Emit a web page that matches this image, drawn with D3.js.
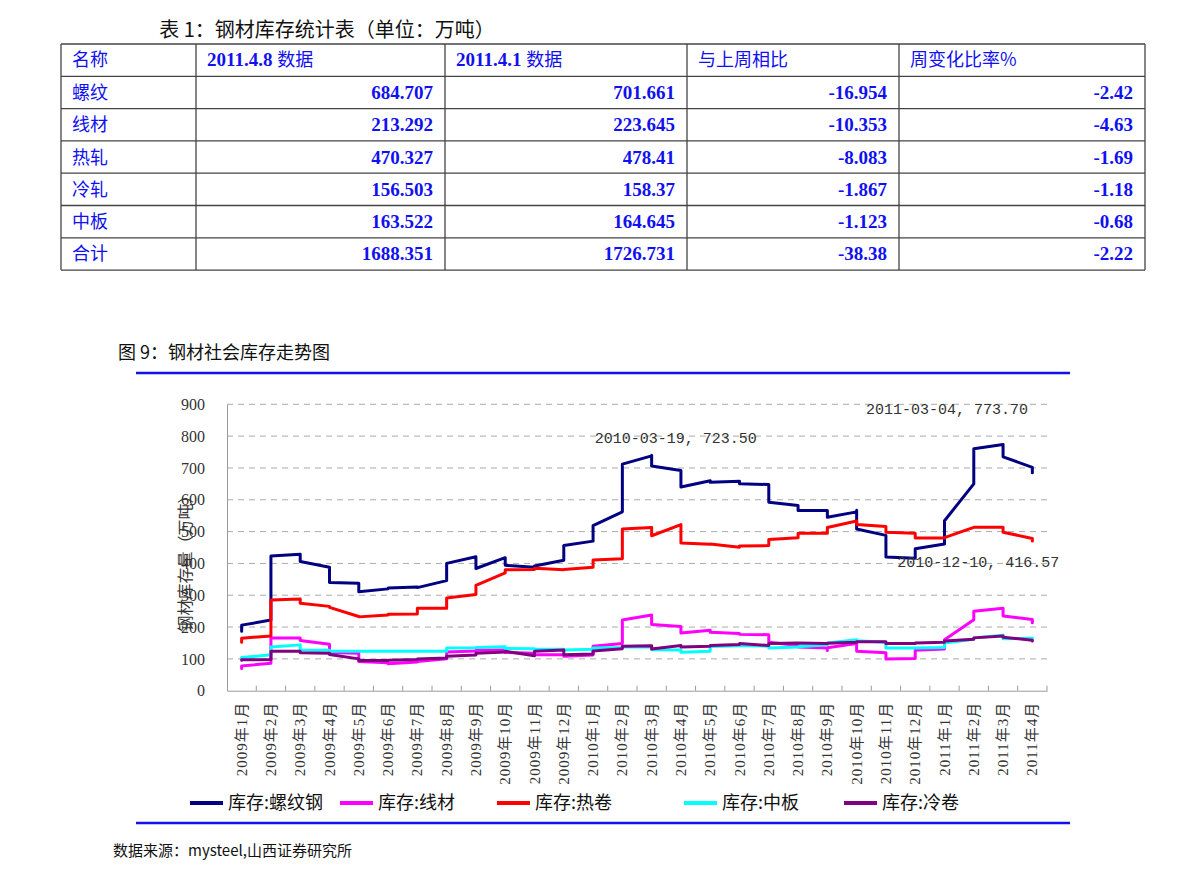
<!DOCTYPE html>
<html><head><meta charset="utf-8">
<script src="https://cdn.jsdelivr.net/npm/d3@7"></script>
<style>body{margin:0;background:#fff}svg{display:block}</style>
</head><body><svg id="c" width="1191" height="877"></svg>
<script>
// ---------- table data ----------
const tableTitle = "表 1：钢材库存统计表（单位：万吨）";
const tableHeader = ["名称", "2011.4.8 数据", "2011.4.1 数据", "与上周相比", "周变化比率%"];
const tableNames = ["螺纹", "线材", "热轧", "冷轧", "中板", "合计"];
const colApr8 = ["684.707", "213.292", "470.327", "156.503", "163.522", "1688.351"];
const colApr1 = ["701.661", "223.645", "478.41", "158.37", "164.645", "1726.731"];
const colDiff = ["-16.954", "-10.353", "-8.083", "-1.867", "-1.123", "-38.38"];
const colRate = ["-2.42", "-4.63", "-1.69", "-1.18", "-0.68", "-2.22"];

// ---------- chart data ----------
const figTitle = "图 9：钢材社会库存走势图";
const yTicks = [0, 100, 200, 300, 400, 500, 600, 700, 800, 900];
const months = ["2009年1月","2009年2月","2009年3月","2009年4月","2009年5月","2009年6月","2009年7月","2009年8月","2009年9月","2009年10月","2009年11月","2009年12月",
  "2010年1月","2010年2月","2010年3月","2010年4月","2010年5月","2010年6月","2010年7月","2010年8月","2010年9月","2010年10月","2010年11月","2010年12月",
  "2011年1月","2011年2月","2011年3月","2011年4月"];
// weekly readings grouped by month (plotted on a monthly date axis)
const rebar = [[187,206],[222,423],[429,406],[388,340],[338,311],[320,323],[326,324],[346,400],[421,384],[418,394],[388,392],[410,456],
  [470,519],[562,712],[738,740,723.5,706],[692,640],[660,655],[658,650],[648,592],[582,566],[566,545],[562,567,508],[488,420],[416.57,446],
  [461,534],[650,760],[773.7,735],[701.661,684.707]];
const wire = [[70,78],[86,166],[166,158],[146,120],[118,92],[88,85],[90,92],[100,122],[125,127],[128,120],[118,113],[113,108],
  [112,140],[148,222],[238,208],[202,181],[190,184],[180,177],[176,152],[142,137],[134,126,135],[148,124],[119,100],[101,127],
  [131,160],[223,250],[259,235],[223.645,213.292]];
const hotRoll = [[152,165],[172,285],[288,275],[265,262],[233,232],[238,240],[241,259],[259,291],[302,331],[370,380],[381,385],[380,381],
  [388,411],[415,508],[513,487],[522,464],[460,461],[451,455],[456,475],[481,495],[495,513],[533,522],[516,498],[495,480],
  [480,481],[513,514],[514,498],[478.41,470.327]];
const plate = [[103,104],[113,137],[144,128],[127,124],[124,124],[124,124],[124,124],[124,134],[135,136],[138,133],[132,131],[130,128],
  [130,134],[136,137],[137,129],[128,121],[124,139],[141,142],[140,134],[137,138],[144,150],[160,157],[152,134],[134,134],
  [136,150],[162,166],[174,163],[164.645,163.522]];
const coldRoll = [[96,97],[98,124],[124,119],[118,114],[100,95],[95,96],[98,100],[103,108],[112,118],[122,124],[110,124],[128,113],
  [115,125],[132,140],[141,131],[142,137],[140,142],[145,148],[142,148],[150,150],[148,149],[152,154],[154,148],[148,150],
  [152,156],[162,166],[172,168],[158.37,156.503]];
const seriesNames = ["库存:螺纹钢", "库存:线材", "库存:热卷", "库存:中板", "库存:冷卷"];
const seriesColors = ["#000080", "#FF00FF", "#FF0000", "#00FFFF", "#800080"];
const seriesData = [rebar, wire, hotRoll, plate, coldRoll];
const annotations = [
  {series: 0, month: "2010年3月", value: 723.5, text: "2010-03-19, 723.50", dx: -57, dy: -17},
  {series: 0, month: "2011年3月", value: 773.7, text: "2011-03-04, 773.70", dx: -137, dy: -30},
  {series: 0, month: "2010年12月", value: 416.57, text: "2010-12-10, 416.57", dx: -18, dy: 9}
];
const yTitle = "钢材库存量（万吨）";
const sourceText = "数据来源：mysteel,山西证券研究所";

const svg = d3.select("#c");
const CJK = "'Noto Sans CJK SC', sans-serif";
const SERIF = "'Liberation Serif', 'Noto Sans CJK SC', serif";
const BLUE = "#1010F0";

// ---------- table ----------
svg.append("text").attr("x", 327).attr("y", 37).attr("text-anchor", "middle")
  .attr("font-family", CJK).attr("font-size", 20).attr("fill", "#111").text(tableTitle);
const colX = [61, 196, 445, 687, 899, 1145];
const rowTop = 44, rowH = 32.3;
const tbl = svg.append("g");
const nRows = tableNames.length + 1;
for (let r = 0; r <= nRows; r++) {
  tbl.append("line").attr("x1", colX[0]).attr("x2", colX[5])
    .attr("y1", rowTop + r * rowH).attr("y2", rowTop + r * rowH)
    .attr("stroke", "#444").attr("stroke-width", 1.3);
}
colX.forEach(x => tbl.append("line").attr("x1", x).attr("x2", x)
  .attr("y1", rowTop).attr("y2", rowTop + nRows * rowH).attr("stroke", "#444").attr("stroke-width", 1.3));
tableHeader.forEach((h, i) => {
  const bold = (i === 1 || i === 2);
  const t = tbl.append("text").attr("x", colX[i] + 11).attr("y", rowTop + rowH / 2 + 6)
    .attr("font-size", 18).attr("fill", BLUE).attr("font-family", CJK);
  if (bold) {
    const parts = h.split(" ");
    t.append("tspan").attr("font-family", SERIF).attr("font-weight", "bold").attr("font-size", 19).text(parts[0] + " ");
    t.append("tspan").text(parts[1]);
  } else t.text(h);
});
const cols = [colApr8, colApr1, colDiff, colRate];
tableNames.forEach((n, r) => {
  const cy = rowTop + (r + 1) * rowH + rowH / 2 + 6.5;
  tbl.append("text").attr("x", colX[0] + 11).attr("y", cy).attr("font-family", CJK)
    .attr("font-size", 18).attr("fill", BLUE).text(n);
  cols.forEach((c, ci) => {
    tbl.append("text").attr("x", colX[ci + 2] - 12).attr("y", cy).attr("text-anchor", "end")
      .attr("font-family", SERIF).attr("font-weight", "bold").attr("font-size", 19)
      .attr("fill", BLUE).text(c[r]);
  });
});

// ---------- figure heading ----------
svg.append("text").attr("x", 118).attr("y", 359).attr("font-family", CJK)
  .attr("font-size", 18).attr("fill", "#111").text(figTitle);
svg.append("line").attr("x1", 136).attr("x2", 1070).attr("y1", 373).attr("y2", 373)
  .attr("stroke", BLUE).attr("stroke-width", 2.5);
svg.append("line").attr("x1", 136).attr("x2", 1070).attr("y1", 823).attr("y2", 823)
  .attr("stroke", BLUE).attr("stroke-width", 2.5);
svg.append("text").attr("x", 113).attr("y", 856).attr("font-family", CJK)
  .attr("font-size", 15).attr("fill", "#111").text(sourceText);

// ---------- chart ----------
const L = 227, R = 1047, T = 404.3, B = 690.7;
const x = d3.scaleBand().domain(months).range([L, R]).paddingInner(0).paddingOuter(0);
const y = d3.scaleLinear().domain([0, 900]).range([B, T]);
const cx = m => x(m) + x.bandwidth() / 2;

// gridlines
svg.append("g").selectAll("line").data(yTicks.filter(v => v > 0)).join("line")
  .attr("x1", L).attr("x2", R).attr("y1", d => y(d)).attr("y2", d => y(d))
  .attr("stroke", "#ababab").attr("stroke-width", 1).attr("stroke-dasharray", "6,5");

// y axis
const yAxis = svg.append("g").attr("transform", `translate(${L},0)`)
  .call(d3.axisLeft(y).tickValues(yTicks).tickSize(0).tickPadding(22));
yAxis.select(".domain").attr("stroke", "#9a9a9a");
yAxis.selectAll("text").attr("font-family", SERIF).attr("font-size", 16).attr("fill", "#333");

// x axis
const xAxis = svg.append("g").attr("transform", `translate(0,${B})`)
  .call(d3.axisBottom(x).tickSize(0).tickPadding(0));
xAxis.select(".domain").attr("stroke", "#9a9a9a");
xAxis.selectAll("text")
  .attr("font-family", SERIF).attr("font-size", 15).attr("fill", "#333")
  .attr("letter-spacing", 1)
  .attr("text-anchor", "end").attr("dy", 0)
  .attr("transform", "translate(5,11) rotate(-90)");
// tick marks at month boundaries (inside)
svg.append("g").selectAll("line").data(months).join("line")
  .attr("x1", d => x(d) + x.bandwidth()).attr("x2", d => x(d) + x.bandwidth())
  .attr("y1", B).attr("y2", B - 5).attr("stroke", "#9a9a9a");

// y title
svg.append("text").attr("transform", `translate(191,${(T + B) / 2 + 12}) rotate(-90)`)
  .attr("text-anchor", "middle").attr("font-family", CJK).attr("font-size", 16)
  .attr("fill", "#333").text(yTitle);

// lines
const line = d3.line().x(d => d.x).y(d => d.y).curve(d3.curveLinear);
seriesData.forEach((s, si) => {
  const pts = [];
  s.forEach((vals, mi) => vals.forEach(v => pts.push({x: cx(months[mi]), y: y(v)})));
  svg.append("path").datum(pts).attr("d", line).attr("fill", "none")
    .attr("stroke", seriesColors[si]).attr("stroke-width", 3)
    .attr("stroke-linejoin", "round").attr("stroke-linecap", "round");
});

// annotations
annotations.forEach(a => {
  svg.append("text").attr("x", cx(a.month) + a.dx).attr("y", y(a.value) + a.dy)
    .attr("font-family", "'Liberation Mono', monospace").attr("font-size", 15)
    .attr("fill", "#333").text(a.text);
});

// legend
const legX = [190, 340, 497, 684, 844];
seriesNames.forEach((n, i) => {
  svg.append("line").attr("x1", legX[i]).attr("x2", legX[i] + 33).attr("y1", 803).attr("y2", 803)
    .attr("stroke", seriesColors[i]).attr("stroke-width", 4);
  svg.append("text").attr("x", legX[i] + 38).attr("y", 809).attr("font-family", CJK)
    .attr("font-size", 18).attr("fill", "#111").text(n);
});
</script></body></html>
